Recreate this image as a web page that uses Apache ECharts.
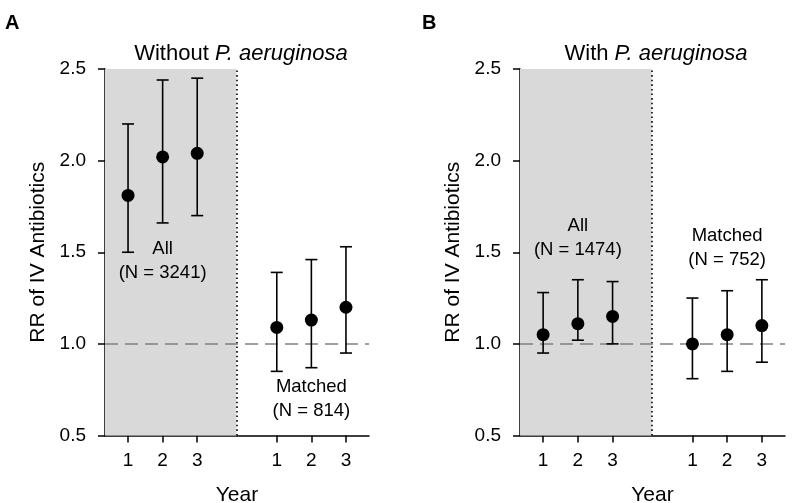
<!DOCTYPE html>
<html>
<head>
<meta charset="utf-8">
<script src="https://cdn.jsdelivr.net/npm/echarts@6/dist/echarts.min.js"></script>
<style>
html,body{margin:0;padding:0;background:#fff;}
#chart{width:792px;height:503px;}
</style>
</head>
<body>
<div id="chart"></div>
<script>
// ---------- data ----------
const yearLabels = ['1', '2', '3'];
const yTicks = [0.5, 1.0, 1.5, 2.0, 2.5];

const panelLetters = ['A', 'B'];
const panelTitlePrefix = ['Without ', 'With '];
const panelTitleItalic = ['P. aeruginosa', 'P. aeruginosa'];

const aAllLabel = ['All', '(N = 3241)'];
const aMatLabel = ['Matched', '(N = 814)'];
const bAllLabel = ['All', '(N = 1474)'];
const bMatLabel = ['Matched', '(N = 752)'];

const aAllRR   = [1.81, 2.02, 2.04];
const aAllLow  = [1.50, 1.66, 1.70];
const aAllHigh = [2.20, 2.44, 2.45];
const aMatRR   = [1.09, 1.13, 1.20];
const aMatLow  = [0.85, 0.87, 0.95];
const aMatHigh = [1.39, 1.46, 1.53];

const bAllRR   = [1.05, 1.11, 1.15];
const bAllLow  = [0.95, 1.02, 1.00];
const bAllHigh = [1.28, 1.35, 1.34];
const bMatRR   = [1.00, 1.05, 1.10];
const bMatLow  = [0.81, 0.85, 0.90];
const bMatHigh = [1.25, 1.29, 1.35];

const referenceRR = 1.0;

// ---------- layout ----------
const FONT = '"Liberation Sans", Arial, Helvetica, sans-serif';
const GROUP_OFFSET = [0, 4.3];     // x offset of "All" and "Matched" groups
const X_MIN = 0.334, X_MAX = 7.966;
const DIVIDER_X = 4.13;
const grids = [
  {left: 105, right: 423, top: 69, bottom: 67.5, outerBoundsMode: 'none', containLabel: false},
  {left: 520, right: 7, top: 69, bottom: 67.5, outerBoundsMode: 'none', containLabel: false}
];
const titleCenters = [236, 651];
const letterLeft = [0, 417];

const panels = [
  {all: [aAllRR, aAllLow, aAllHigh], mat: [aMatRR, aMatLow, aMatHigh],
   labels: [[aAllLabel, 2, 1.452], [aMatLabel, 2, 0.697]]},
  {all: [bAllRR, bAllLow, bAllHigh], mat: [bMatRR, bMatLow, bMatHigh],
   labels: [[bAllLabel, 2, 1.581], [bMatLabel, 2, 1.522]]}
];

const tickPositions = [];
GROUP_OFFSET.forEach(off => yearLabels.forEach((y, i) => tickPositions.push(off + (i + 1))));
function labelFor(v) {
  for (let g = GROUP_OFFSET.length - 1; g >= 0; g--) {
    if (v > GROUP_OFFSET[g] + 0.5) {
      const idx = Math.round(v - GROUP_OFFSET[g]) - 1;
      return yearLabels[idx] || '';
    }
  }
  return '';
}

const chart = echarts.init(document.getElementById('chart'), null, {renderer: 'canvas'});

const option = {
  backgroundColor: '#fff',
  animation: false,
  textStyle: {fontFamily: FONT},
  title: [],
  grid: grids,
  xAxis: [],
  yAxis: [],
  series: []
};

panels.forEach((p, pi) => {
  option.title.push({
    text: panelLetters[pi], left: letterLeft[pi], top: 8,
    textStyle: {fontFamily: FONT, fontSize: 20, fontWeight: 'bold', color: '#000'}
  });
  option.title.push({
    text: panelTitlePrefix[pi] + '{i|' + panelTitleItalic[pi] + '}',
    left: titleCenters[pi], top: 38, textAlign: 'center',
    textStyle: {fontFamily: FONT, fontSize: 22, fontWeight: 'normal', color: '#000',
      rich: {i: {fontFamily: FONT, fontSize: 22, fontStyle: 'italic', color: '#000'}}}
  });

  option.xAxis.push({
    type: 'value', gridIndex: pi, min: X_MIN, max: X_MAX,
    name: 'Year', nameLocation: 'middle', nameGap: 49,
    nameTextStyle: {fontFamily: FONT, fontSize: 21, color: '#000'},
    splitLine: {show: false},
    axisLine: {show: true, onZero: false, lineStyle: {color: '#000', width: 1.5}},
    axisTick: {show: true, length: 7, inside: false, customValues: tickPositions,
      lineStyle: {color: '#000', width: 1.5}},
    axisLabel: {show: true, customValues: tickPositions, margin: 16,
      fontFamily: FONT, fontSize: 19, color: '#000', formatter: v => labelFor(v)}
  });
  option.yAxis.push({
    type: 'value', gridIndex: pi, min: yTicks[0], max: yTicks[yTicks.length - 1],
    interval: 0.5,
    name: 'RR of IV Antibiotics', nameLocation: 'middle', nameGap: 56, nameRotate: 90,
    nameTextStyle: {fontFamily: FONT, fontSize: 21, color: '#000'},
    splitLine: {show: false},
    axisLine: {show: true, onZero: false, lineStyle: {color: '#000', width: 1.5}},
    axisTick: {show: true, length: 7, lineStyle: {color: '#000', width: 1.5}},
    axisLabel: {margin: 19, fontFamily: FONT, fontSize: 19, color: '#000',
      formatter: v => v.toFixed(1)}
  });

  // background area, divider and reference line
  option.series.push({
    type: 'line', xAxisIndex: pi, yAxisIndex: pi, data: [], silent: true, z: 1,
    markArea: {silent: true, itemStyle: {color: '#d9d9d9'},
      data: [[{xAxis: X_MIN}, {xAxis: DIVIDER_X}]]},
    markLine: {silent: true, symbol: 'none', label: {show: false},
      data: [
        {xAxis: DIVIDER_X, lineStyle: {color: '#000', width: 1.6, type: [1.6, 3]}},
        {yAxis: referenceRR, lineStyle: {color: '#808080', width: 1.6, type: [13, 7]}}
      ]}
  });

  [p.all, p.mat].forEach((grp, gi) => {
    const [rr, lo, hi] = grp;
    const pts = rr.map((v, i) => [GROUP_OFFSET[gi] + i + 1, v]);
    const bars = rr.map((v, i) => [GROUP_OFFSET[gi] + i + 1, lo[i], hi[i]]);
    option.series.push({
      type: 'custom', xAxisIndex: pi, yAxisIndex: pi, z: 5, silent: true,
      data: bars,
      renderItem: function (params, api) {
        const x = api.value(0);
        const pLo = api.coord([x, api.value(1)]);
        const pHi = api.coord([x, api.value(2)]);
        const hw = 6;
        const st = {stroke: '#000', lineWidth: 1.6};
        return {type: 'group', children: [
          {type: 'line', shape: {x1: pLo[0], y1: pLo[1], x2: pHi[0], y2: pHi[1]}, style: st},
          {type: 'line', shape: {x1: pLo[0] - hw, y1: pLo[1], x2: pLo[0] + hw, y2: pLo[1]}, style: st},
          {type: 'line', shape: {x1: pHi[0] - hw, y1: pHi[1], x2: pHi[0] + hw, y2: pHi[1]}, style: st}
        ]};
      }
    });
    option.series.push({
      type: 'scatter', xAxisIndex: pi, yAxisIndex: pi, z: 6, silent: true,
      symbol: 'circle', symbolSize: 13, itemStyle: {color: '#000', opacity: 1},
      data: pts
    });
  });

  // group annotations
  option.series.push({
    type: 'custom', xAxisIndex: pi, yAxisIndex: pi, z: 7, silent: true,
    data: p.labels.map((l, gi) => [GROUP_OFFSET[gi] + l[1], l[2]]),
    renderItem: function (params, api) {
      const c = api.coord([api.value(0), api.value(1)]);
      return {type: 'text', x: c[0], y: c[1], style: {
        text: p.labels[params.dataIndex][0].join('\n'),
        fontFamily: FONT, fontSize: 18.5, lineHeight: 24, fill: '#000',
        align: 'center', verticalAlign: 'middle'}};
    }
  });
});

chart.setOption(option);
</script>
</body>
</html>
